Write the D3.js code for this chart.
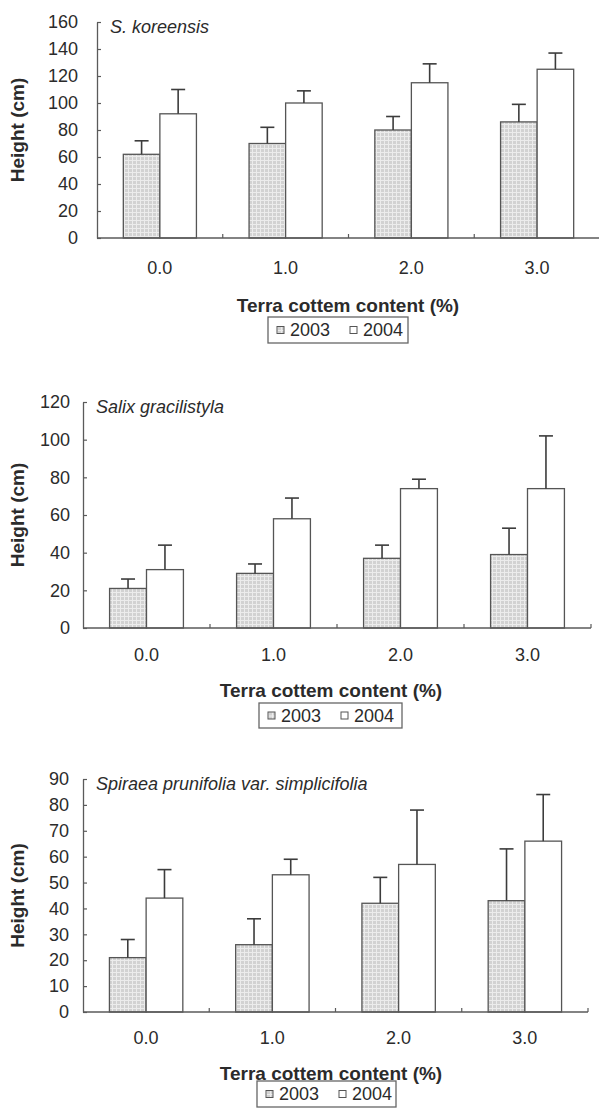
<!DOCTYPE html>
<html>
<head>
<meta charset="utf-8">
<script src="https://cdn.jsdelivr.net/npm/d3@7"></script>
<style>
  html, body { margin: 0; padding: 0; background: #fff; }
  svg { display: block; }
  text { font-family: "Liberation Sans", Arial, sans-serif; fill: #2b2b2b; }
</style>
</head>
<body>
<svg id="chart" width="599" height="1111"></svg>
<script>
// Terra cottem content levels (%) on the x axis
const categories = ["0.0", "1.0", "2.0", "3.0"];
const years = ["2003", "2004"];

// Mean height (cm) and standard deviation, S. koreensis
const koreensis2003 = [62, 70, 80, 86];
const koreensis2003Sd = [10, 12, 10, 13];
const koreensis2004 = [92, 100, 115, 125];
const koreensis2004Sd = [18, 9, 14, 12];

// Salix gracilistyla
const salix2003 = [21, 29, 37, 39];
const salix2003Sd = [5, 5, 7, 14];
const salix2004 = [31, 58, 74, 74];
const salix2004Sd = [13, 11, 5, 28];

// Spiraea prunifolia var. simplicifolia
const spiraea2003 = [21, 26, 42, 43];
const spiraea2003Sd = [7, 10, 10, 20];
const spiraea2004 = [44, 53, 57, 66];
const spiraea2004Sd = [11, 6, 21, 18];

// y-axis tick values for each panel
const koreensisTicks = [0, 20, 40, 60, 80, 100, 120, 140, 160];
const salixTicks = [0, 20, 40, 60, 80, 100, 120];
const spiraeaTicks = [0, 10, 20, 30, 40, 50, 60, 70, 80, 90];

const panels = [
  {
    title: "S. koreensis", ticks: koreensisTicks,
    series: [
      { year: years[0], values: koreensis2003, sd: koreensis2003Sd },
      { year: years[1], values: koreensis2004, sd: koreensis2004Sd }
    ],
    left: 97, right: 600, top: 22, bottom: 238, tickPad: 19,
    yTitleX: 17, xTitleX: 348, xLabelY: 268, xTitleY: 305,
    legend: { x: 268, y: 317, w: 140, h: 26 }
  },
  {
    title: "Salix gracilistyla", ticks: salixTicks,
    series: [
      { year: years[0], values: salix2003, sd: salix2003Sd },
      { year: years[1], values: salix2004, sd: salix2004Sd }
    ],
    left: 83, right: 591, top: 402, bottom: 628, tickPad: 13,
    yTitleX: 17, xTitleX: 331, xLabelY: 655, xTitleY: 690,
    legend: { x: 259, y: 703, w: 143, h: 25 }
  },
  {
    title: "Spiraea prunifolia var. simplicifolia", ticks: spiraeaTicks,
    series: [
      { year: years[0], values: spiraea2003, sd: spiraea2003Sd },
      { year: years[1], values: spiraea2004, sd: spiraea2004Sd }
    ],
    left: 83, right: 588, top: 779, bottom: 1012, tickPad: 14,
    yTitleX: 17, xTitleX: 331, xLabelY: 1038, xTitleY: 1073,
    legend: { x: 257, y: 1081, w: 139, h: 26 }
  }
];

const svg = d3.select("#chart");

// light grey check fill used for the 2003 bars
const defs = svg.append("defs");
const pat = defs.append("pattern")
  .attr("id", "check")
  .attr("patternUnits", "userSpaceOnUse")
  .attr("width", 4).attr("height", 4);
pat.append("rect").attr("width", 4).attr("height", 4).attr("fill", "#d2d2d2");
pat.append("path").attr("d", "M0,0.5H4M0.5,0V4")
  .attr("stroke", "#ececec").attr("stroke-width", 1).attr("fill", "none");

const fills = { "2003": "url(#check)", "2004": "#ffffff" };
const axisColor = "#5a5a5a";

panels.forEach(p => {
  const g = svg.append("g");
  const maxTick = p.ticks[p.ticks.length - 1];

  const x = d3.scaleBand().domain(categories).range([p.left, p.right]);
  const xInner = d3.scaleBand().domain(years).range([0, x.bandwidth()])
    .paddingOuter(0.72).paddingInner(0);
  const y = d3.scaleLinear().domain([0, maxTick]).range([p.bottom, p.top]);

  // bars
  p.series.forEach(s => {
    g.append("g").selectAll("rect")
      .data(s.values.map((v, i) => ({ cat: categories[i], v })))
      .join("rect")
      .attr("x", d => x(d.cat) + xInner(s.year))
      .attr("y", d => y(d.v))
      .attr("width", xInner.bandwidth())
      .attr("height", d => y(0) - y(d.v))
      .attr("fill", fills[s.year])
      .attr("stroke", "#555")
      .attr("stroke-width", 1.3);

    // upper error bars
    const eb = g.append("g").attr("stroke", "#3c3c3c").attr("stroke-width", 1.6);
    s.values.forEach((v, i) => {
      const cx = x(categories[i]) + xInner(s.year) + xInner.bandwidth() / 2;
      const yTop = y(v + s.sd[i]);
      eb.append("line").attr("x1", cx).attr("x2", cx).attr("y1", y(v)).attr("y2", yTop);
      eb.append("line").attr("x1", cx - 7).attr("x2", cx + 7).attr("y1", yTop).attr("y2", yTop);
    });
  });

  // y axis with inward ticks
  const yAxis = d3.axisLeft(y).tickValues(p.ticks)
    .tickSizeInner(-4).tickSizeOuter(0).tickPadding(p.tickPad)
    .tickFormat(d3.format("d"));
  const ya = g.append("g").attr("transform", `translate(${p.left},0)`).call(yAxis);
  ya.select(".domain").attr("stroke", axisColor).attr("stroke-width", 1.3);
  ya.selectAll(".tick line").attr("stroke", axisColor).attr("stroke-width", 1.2);
  ya.selectAll(".tick text").attr("font-size", 18).attr("fill", "#2b2b2b")
    .attr("font-family", "Liberation Sans, Arial, sans-serif");

  // x axis line with inward ticks at the category boundaries
  g.append("line")
    .attr("x1", p.left).attr("x2", p.right)
    .attr("y1", p.bottom).attr("y2", p.bottom)
    .attr("stroke", axisColor).attr("stroke-width", 1.3);
  g.append("g").selectAll("line")
    .data(categories)
    .join("line")
    .attr("x1", d => x(d) + x.bandwidth()).attr("x2", d => x(d) + x.bandwidth())
    .attr("y1", p.bottom).attr("y2", p.bottom - 4)
    .attr("stroke", axisColor).attr("stroke-width", 1.2);

  // category labels
  g.append("g").selectAll("text")
    .data(categories)
    .join("text")
    .attr("x", d => x(d) + x.bandwidth() / 2)
    .attr("y", p.xLabelY)
    .attr("dy", "0.35em")
    .attr("text-anchor", "middle")
    .attr("font-size", 18)
    .text(d => d);

  // species name
  g.append("text")
    .attr("x", p.left + 13).attr("y", p.top + 5)
    .attr("dy", "0.35em")
    .attr("font-size", 18).attr("font-style", "italic")
    .text(p.title);

  // axis titles
  g.append("text")
    .attr("transform", `translate(${p.yTitleX},${(p.top + p.bottom) / 2}) rotate(-90)`)
    .attr("dy", "0.35em")
    .attr("text-anchor", "middle")
    .attr("font-size", 19).attr("font-weight", "bold")
    .text("Height (cm)");
  g.append("text")
    .attr("x", p.xTitleX).attr("y", p.xTitleY)
    .attr("dy", "0.35em")
    .attr("text-anchor", "middle")
    .attr("font-size", 19).attr("font-weight", "bold")
    .text("Terra cottem content (%)");

  // legend
  const L = p.legend;
  const lg = g.append("g").attr("transform", `translate(${L.x},${L.y})`);
  lg.append("rect").attr("width", L.w).attr("height", L.h)
    .attr("fill", "#fff").attr("stroke", "#666").attr("stroke-width", 1.3);
  const items = lg.selectAll("g.item")
    .data(years)
    .join("g")
    .attr("class", "item")
    .attr("transform", (d, i) => `translate(${9 + i * 73},${L.h / 2})`);
  items.append("rect")
    .attr("x", 0).attr("y", -3.5).attr("width", 7).attr("height", 7)
    .attr("fill", d => fills[d]).attr("stroke", "#555").attr("stroke-width", 1);
  items.append("text")
    .attr("x", 13).attr("dy", "0.35em")
    .attr("font-size", 18)
    .text(d => d);
});
</script>
</body>
</html>
